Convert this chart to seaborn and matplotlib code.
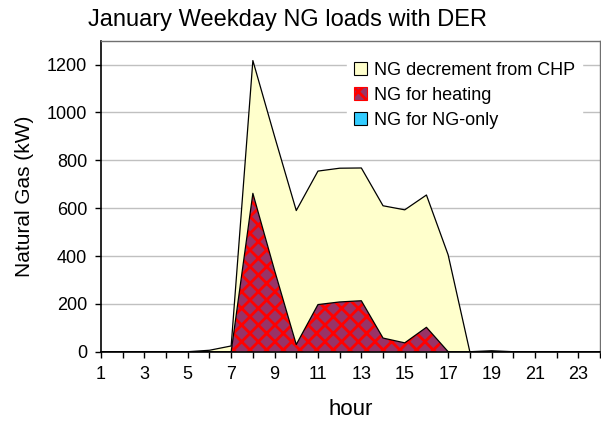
import numpy as np
import pandas as pd
import matplotlib
matplotlib.use("Agg")
import matplotlib.pyplot as plt
import seaborn as sns
from matplotlib.patches import Patch

# data (kW, January weekday)
hours = list(range(1, 25))
ng_only = [0] * 24
ng_heating = [0, 0, 0, 0, 0, 0, 0, 662, 340, 30, 197, 208, 213, 57, 37, 102,
              0, 0, 0, 0, 0, 0, 0, 0]
ng_chp_decrement = [0, 0, 0, 0, 0, 6, 24, 555, 560, 560, 558, 559, 555, 553, 556, 553,
                    405, 0, 4, 0, 0, 0, 0, 0]
series_names = ["NG for NG-only", "NG for heating", "NG decrement from CHP"]
x_tick_labels = [str(h) if h % 2 == 1 else "" for h in hours]

df = pd.DataFrame({"hour": hours,
                   "NG for NG-only": ng_only,
                   "NG for heating": ng_heating,
                   "NG decrement from CHP": ng_chp_decrement})

sns.set_style("white")
plt.rcParams["font.family"] = ["Liberation Sans", "DejaVu Sans"]
plt.rcParams["hatch.linewidth"] = 2.0
plt.rcParams["text.color"] = "black"
plt.rcParams["axes.labelcolor"] = "black"
plt.rcParams["xtick.color"] = "black"
plt.rcParams["ytick.color"] = "black"

fig = plt.figure(figsize=(6.01, 4.23), dpi=100)
ax = fig.add_axes([101 / 601, 1 - 351.7 / 423, 499 / 601, 311 / 423])

# stacked areas
base = np.zeros(len(df))
top1 = base + df["NG for NG-only"].values
top2 = top1 + df["NG for heating"].values
top3 = top2 + df["NG decrement from CHP"].values

ax.fill_between(df["hour"], base, top1, facecolor="#33CCFF", edgecolor="none", zorder=2)
ax.fill_between(df["hour"], top1, top2, facecolor="#993366", edgecolor="#FF0000",
                hatch="xx", linewidth=0, zorder=2)
ax.fill_between(df["hour"], top2, top3, facecolor="#FFFFCC", edgecolor="none", zorder=2)

# outlines
for top in [top2, top3]:
    sns.lineplot(x=df["hour"], y=top, color="black", linewidth=0.9, ax=ax, zorder=3)

ax.set_xlim(1, 24)
ax.set_ylim(0, 1300)
ax.set_yticks(range(0, 1201, 200))
ax.set_xticks(hours)
ax.set_xticklabels(x_tick_labels)
ax.yaxis.grid(True, color="#C0C0C0", linewidth=1.0, zorder=0)
ax.set_axisbelow(True)

ax.tick_params(axis="both", direction="out", length=4, width=1, color="black",
               labelsize=13, labelcolor="black", bottom=True, left=True, pad=6)
for s in ["left", "bottom"]:
    ax.spines[s].set_color("black")
    ax.spines[s].set_linewidth(1.2)
for s in ["top", "right"]:
    ax.spines[s].set_color("#707070")
    ax.spines[s].set_linewidth(1.0)

ax.set_xlabel("hour", fontsize=16, labelpad=12)
ax.set_ylabel("Natural Gas (kW)", fontsize=15, labelpad=9)
fig.text(288 / 601, 1 - 20 / 423, "January Weekday NG loads with DER",
         fontsize=17, ha="center", va="center")

handles = [Patch(facecolor="#FFFFCC", edgecolor="black", linewidth=0.8),
           Patch(facecolor="#993366", edgecolor="#FF0000", hatch="xx", linewidth=0.8),
           Patch(facecolor="#33CCFF", edgecolor="black", linewidth=0.8)]
leg = ax.legend(handles, series_names[::-1], loc="upper left",
                bbox_to_anchor=(0.475, 0.985), frameon=True, fontsize=13,
                handlelength=0.7, handleheight=0.7, handletextpad=0.4,
                labelspacing=0.45, borderpad=0.4, fancybox=False)
leg.get_frame().set_edgecolor("white")
leg.get_frame().set_facecolor("white")
leg.get_frame().set_alpha(1)
leg.set_zorder(5)

fig.savefig("out.png", dpi=100)
